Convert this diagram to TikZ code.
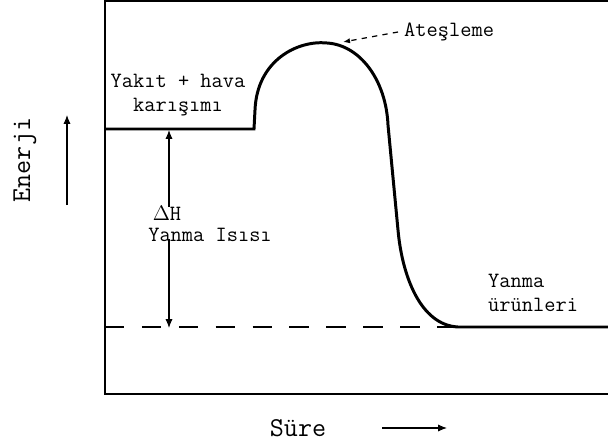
\documentclass[tikz,border=0pt]{standalone}
\usepackage{fontspec}
\setmonofont{Latin Modern Mono}
\usepackage{tikz}
\usetikzlibrary{arrows.meta}

\begin{document}
\begin{tikzpicture}[x=0.02cm,y=-0.02cm,
  >={Latex[length=5pt,width=4pt]},
  every node/.style={font=\ttfamily\fontsize{12.4}{14}\selectfont},
  axisname/.style={font=\ttfamily\fontsize{15.5}{18}\selectfont},
  frame/.style={line width=1.4pt},
  level/.style={line width=1.7pt},
  thinarrow/.style={line width=0.6pt,->}]
\useasboundingbox (0,0) rectangle (608,446);

% Frame of the plot
\draw[frame] (104,1) -- (608,1);
\draw[frame] (105,1) -- (105,394) -- (608,394);

% Energy levels and reaction path
\draw[level] (105,129) -- (254,129) -- (255,110)
  .. controls (257,60) and (298,40) .. (327,43)
  .. controls (360,45) and (386,80) .. (388,125)
  -- (398,230)
  .. controls (402,275) and (420,325) .. (458,327)
  -- (608,327);
\draw[line width=1.1pt,dash pattern=on 11pt off 10pt] (105,327) -- (458,327);

% Labels
\node (reac) [align=center] at (178,95) {Yakıt + hava\\karışımı};
\node (prod) [align=left,anchor=west] at (482,293) {Yanma\\ürünleri};
\node (ign) [anchor=west] at (398,32) {Ateşleme};
\coordinate (ignpt) at (343,42);
\draw[line width=0.7pt,dashed,-{Latex[length=4pt,width=3pt]}] (ign.west) -- (ignpt);

% Heat of combustion
\coordinate (dhtop) at (169,130);
\coordinate (dhbot) at (169,328);
\node (dh) at (167,213) {$\Delta$H};
\node (heat) at (210,235) {Yanma Isısı};
\draw[thinarrow] ([yshift=-4pt]dh.north -| dhtop) -- (dhtop);
\draw[thinarrow] ([yshift=5pt]heat.south -| dhbot) -- (dhbot);

% Axis names
\node (energy) [axisname,rotate=90] at (25,160) {Enerji};
\coordinate (eup) at (67,115);
\coordinate (elow) at (67,205);
\draw[thinarrow] (elow) -- (eup);
\node (time) [axisname] at (298,428) {Süre};
\coordinate (tleft) at (382,428);
\coordinate (tright) at (447,428);
\draw[thinarrow] (tleft) -- (tright);
\end{tikzpicture}
\end{document}
